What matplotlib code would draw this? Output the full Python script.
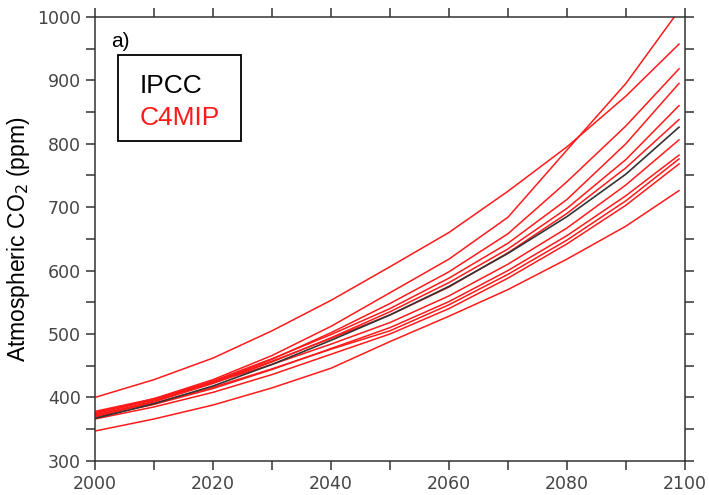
import numpy as np
import matplotlib
matplotlib.use("Agg")
import matplotlib.pyplot as plt
from matplotlib.ticker import MultipleLocator

# anos comunes para todas las curvas
anos = [2000, 2010, 2020, 2030, 2040, 2050, 2060, 2070, 2080, 2090, 2099]

# curva IPCC (negra)
ipcc = [367, 390, 418, 452, 490, 530, 575, 627, 685, 752, 826]

# curvas de los modelos C4MIP (rojas)
c4mip = [
    [400, 428, 462, 505, 553, 606, 660, 725, 795, 875, 957],
    [375, 398, 428, 466, 512, 565, 618, 684, 790, 895, 1010],
    [372, 394, 424, 460, 502, 548, 598, 658, 740, 828, 918],
    [376, 397, 426, 461, 499, 540, 588, 643, 712, 800, 895],
    [370, 393, 422, 456, 494, 535, 581, 634, 698, 775, 860],
    [374, 396, 424, 457, 493, 530, 574, 628, 690, 762, 838],
    [378, 398, 423, 452, 484, 518, 560, 610, 667, 735, 806],
    [369, 389, 414, 444, 477, 510, 551, 600, 655, 718, 782],
    [372, 391, 416, 445, 476, 505, 546, 594, 648, 710, 776],
    [366, 385, 408, 436, 468, 500, 540, 588, 642, 703, 768],
    [347, 366, 388, 415, 446, 488, 528, 570, 618, 670, 726],
]

fig = plt.figure(figsize=(7.09, 4.95), dpi=100)
ax = fig.add_axes([0.134, 0.069, 0.832, 0.897])

for serie in c4mip:
    ax.plot(anos, serie, color='#ff1a1a', lw=1.1)
ax.plot(anos, ipcc, color='#333333', lw=1.2)

ax.set_xlim(2000, 2100)
ax.set_ylim(300, 1000)
ax.xaxis.set_major_locator(MultipleLocator(20))
ax.xaxis.set_minor_locator(MultipleLocator(10))
ax.yaxis.set_major_locator(MultipleLocator(100))
ax.yaxis.set_minor_locator(MultipleLocator(50))
ax.tick_params(which='both', direction='out', length=6.5, width=1.1,
               top=True, right=True, colors='#333333', labelsize=12.5)
ax.tick_params(labelcolor='#444444')
for s in ax.spines.values():
    s.set_linewidth(1.1)
    s.set_color('#333333')

ax.set_ylabel('Atmospheric CO$_2$ (ppm)', fontsize=16.5, family='Liberation Sans',
              labelpad=4)

# etiqueta del panel y leyenda en caja
ax.text(0.027, 0.945, 'a)', transform=ax.transAxes, fontsize=15,
        family='Liberation Sans', va='center')
caja = plt.Rectangle((0.0395, 0.721), 0.208, 0.194, transform=ax.transAxes,
                     fill=False, lw=1.3, color='black')
ax.add_patch(caja)
ax.text(0.076, 0.845, 'IPCC', transform=ax.transAxes, fontsize=19,
        family='Liberation Sans', va='center', color='black')
ax.text(0.076, 0.773, 'C4MIP', transform=ax.transAxes, fontsize=19,
        family='Liberation Sans', va='center', color='#ff1a1a')

plt.savefig('out.png', dpi=100)
